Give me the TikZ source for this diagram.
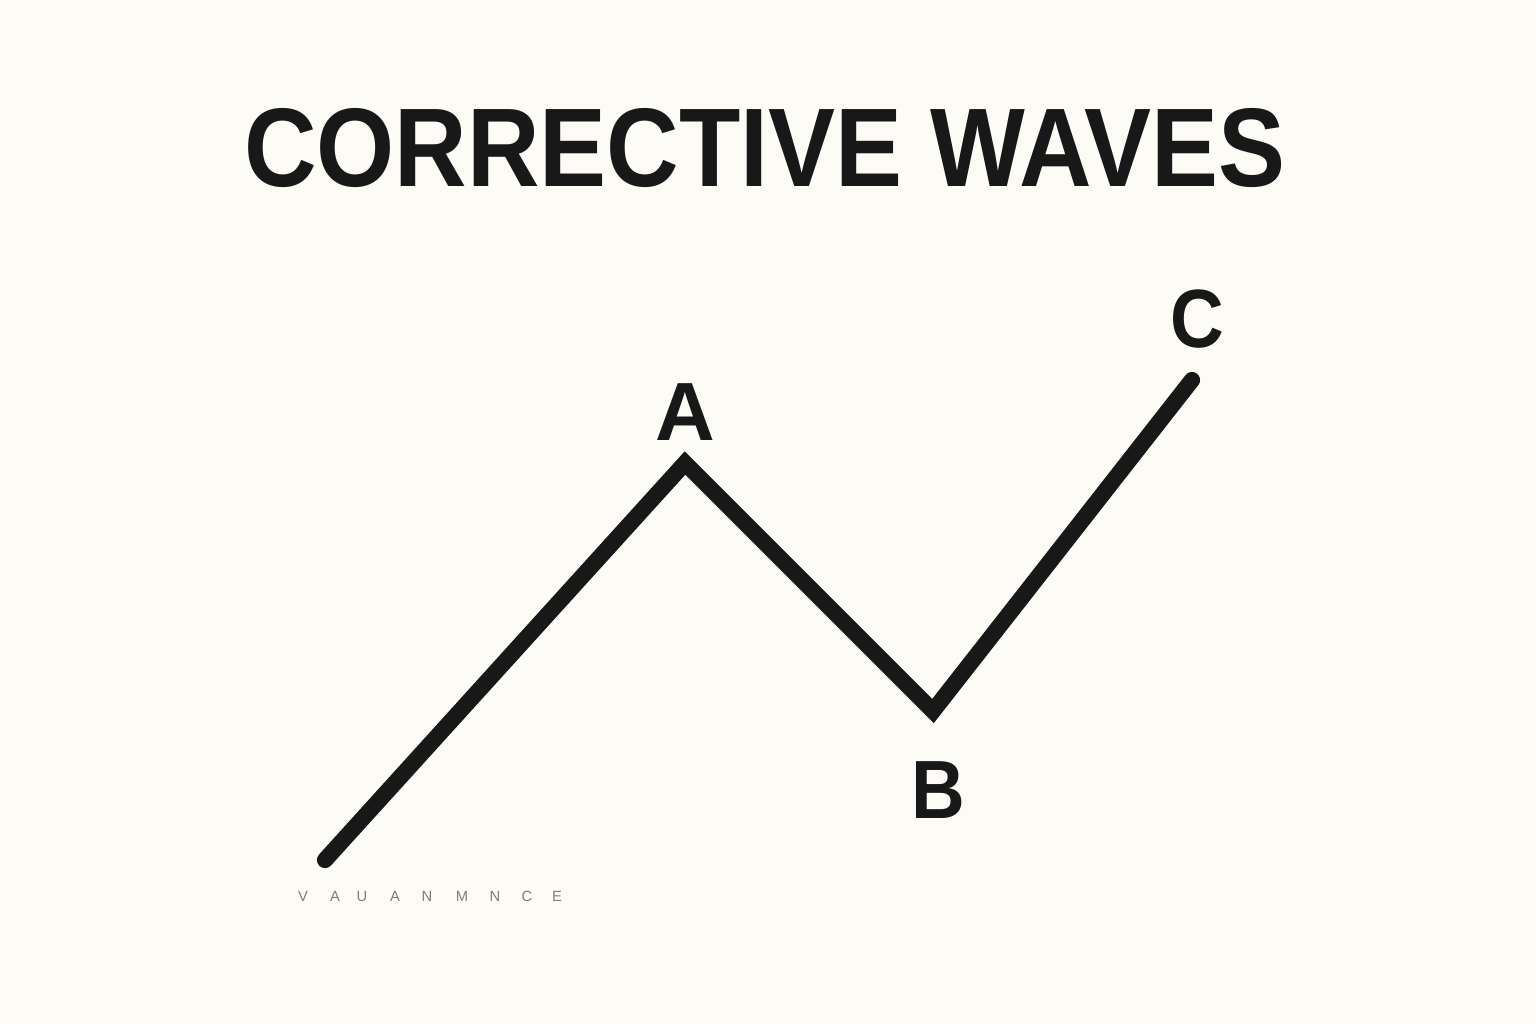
\documentclass[tikz,border=0pt]{standalone}
\usepackage{fontspec}
\setmainfont{Liberation Sans}
\usepackage{graphicx}
\usetikzlibrary{positioning}
\definecolor{bg}{RGB}{253, 251, 246}
\definecolor{ink}{RGB}{24, 24, 24}
\definecolor{faint}{RGB}{125, 125, 125}
\tikzstyle{wave} = [ink, line width=4.6pt, line cap=round, line join=miter]
\tikzstyle{wavelabel} = [text=ink, inner sep=0, font=\bfseries\fontsize{23.5pt}{24pt}\selectfont]
\tikzstyle{title} = [text=ink, inner sep=0, font=\bfseries\fontsize{31.8pt}{32pt}\selectfont]
\tikzstyle{scribble} = [text=faint, inner sep=0, font=\fontsize{4.2pt}{5pt}\selectfont]
\begin{document}
\begin{tikzpicture}[x=0.01cm, y=-0.01cm]
    \fill[bg] (0, 0) rectangle (1536, 1024);

    % title
    \node[title] at (765, 148) (title) {\scalebox{0.898}[1]{CORRECTIVE WAVES}};

    % wave points
    \coordinate (start) at (325, 860);
    \coordinate (a)     at (685, 463);
    \coordinate (b)     at (933, 711);
    \coordinate (c)     at (1192, 380);

    % labels
    \node[wavelabel] at (685, 412) (la) {A};
    \node[wavelabel] at (938, 790) (lb) {\scalebox{0.9}[1]{B}};
    \node[wavelabel] at (1197, 319) (lc) {\scalebox{0.9}[1]{C}};

    % faint letters
    \foreach \x/\l [count=\i] in {303/V, 335/A, 362/U, 395/A, 427/N, 462/M, 495/N, 527/C, 557/E}
      \node[scribble] at (\x, 896) (s\i) {\l};

    % wave
    \draw[wave] (start) -- (a) -- (b) -- (c);
\end{tikzpicture}
\end{document}
